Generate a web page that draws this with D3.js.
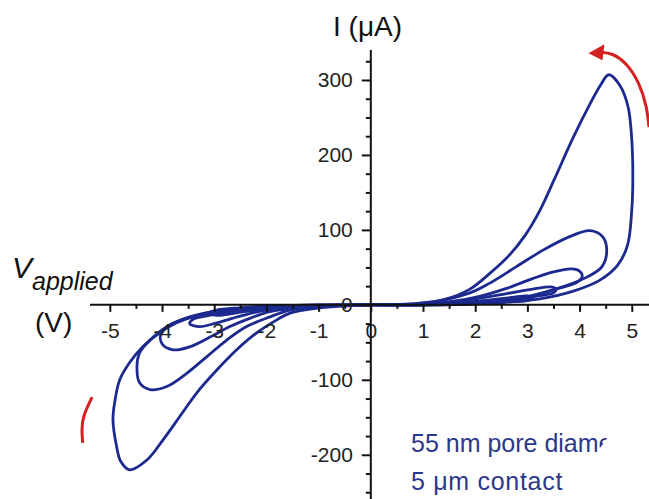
<!doctype html>
<html>
<head>
<meta charset="utf-8">
<title>I-V loops</title>
<style>
  body { margin: 0; background: #fff; }
  svg { display: block; font-family: "Liberation Sans", Arial, sans-serif; }
  .axis path, .axis line { stroke: #111; stroke-width: 2; }
  .axis text { fill: #222; font-size: 21px; }
  .loop { fill: none; stroke: #1c2a90; stroke-width: 2.8; stroke-linejoin: round; }
</style>
<script src="https://d3js.org/d3.v7.min.js"></script>
</head>
<body>
<svg width="649" height="499"></svg>
<script>
// tick values
var xMajor = [-5, -4, -3, -2, -1, 0, 1, 2, 3, 4, 5];
var xMinor = [-4.5, -3.5, -2.5, -1.5, -0.5, 0.5, 1.5, 2.5, 3.5, 4.5];
var yMajor = [300, 200, 100, 0, -100, -200];
var yMinor = [325, 275, 250, 225, 175, 150, 125, 75, 50, 25, -25, -50, -75, -125, -150, -175, -225, -250];

// loops, [V, I(uA)]
var posLoop1 = [[0,0],[1.5,0.5],[2.47,3],[3.24,8],[3.91,19],[4.39,33],[4.73,53],[4.92,80],[5.0,127],[5.02,167],[5.0,220],[4.93,264],[4.77,293],[4.56,307],[4.4,293],[4.2,268],[3.87,222],[3.52,168],[3.24,126],[2.96,93],[2.65,66],[2.28,42],[1.9,21],[1.4,7],[0.8,1.5],[0,0]];
var posLoop2 = [[0,0],[0.94,0],[1.9,3],[2.85,9],[3.49,20],[4.14,37],[4.43,51],[4.52,73],[4.44,91],[4.2,99],[3.81,91],[3.3,73],[2.79,51],[2.28,29],[1.9,16],[1.0,2],[0,0]];
var posLoop3 = [[0,0],[0.8,0],[1.5,1],[2.5,5],[3.1,12],[3.6,22],[3.95,30],[4.05,38],[4.0,45],[3.85,48],[3.5,44],[3.1,35],[2.6,22],[2.0,10],[1.2,2],[0,0]];
var posLoop4 = [[0,0],[1.2,0],[2.0,2],[2.7,6],[3.2,12],[3.5,16],[3.55,21],[3.45,24],[3.1,21],[2.6,15],[2.0,8],[1.3,2],[0,0]];
var posLoop5 = [[0,0],[1.2,0],[2.0,1.5],[2.6,4],[3.0,6],[3.1,10],[3.0,12],[2.7,10],[2.2,6],[1.5,2],[0,0]];

var negLoop1 = [[0,0],[-0.4,-1],[-0.98,-4],[-1.55,-11],[-1.8,-20],[-2.18,-37],[-2.57,-60],[-2.95,-87],[-3.33,-117],[-3.66,-149],[-3.98,-180],[-4.29,-207],[-4.62,-220],[-4.79,-209],[-4.87,-189],[-4.94,-153],[-4.9,-127],[-4.81,-100],[-4.62,-77],[-4.37,-56],[-4.04,-37],[-3.72,-24],[-3.28,-13],[-2.84,-7],[-2.18,-3],[-1.2,-0.5],[0,0]];
var negLoop2 = [[0,0],[-0.9,-2],[-1.55,-7],[-1.93,-16],[-2.38,-29],[-2.76,-47],[-3.14,-69],[-3.52,-91],[-3.91,-109],[-4.23,-113],[-4.43,-104],[-4.48,-83],[-4.43,-64],[-4.23,-47],[-3.91,-29],[-3.47,-16],[-2.84,-7],[-2.0,-2],[-1.0,-0.3],[0,0]];
var negLoop3 = [[0,0],[-1.0,-2],[-1.93,-9],[-2.32,-18],[-2.7,-29],[-3.08,-43],[-3.47,-56],[-3.79,-60],[-4.0,-52],[-4.02,-38],[-3.85,-27],[-3.47,-17],[-2.9,-9],[-2.2,-4],[-1.2,-1],[0,0]];
var negLoop4 = [[0,0],[-1.2,-2],[-2.0,-7],[-2.5,-15],[-2.95,-24],[-3.28,-29],[-3.47,-25],[-3.4,-19],[-3.1,-14],[-2.6,-8],[-1.9,-3],[-1.0,-0.5],[0,0]];
var negLoop5 = [[0,0],[-1.3,-2],[-2.1,-6],[-2.6,-11],[-2.95,-14],[-3.1,-11],[-2.95,-7],[-2.5,-4],[-1.8,-1.5],[-1.0,-0.3],[0,0]];

// sweep direction arrows (red)
var arrowTop = [[5.33,237],[5.29,264],[5.15,296],[4.9,323],[4.62,336],[4.4,337]];
var arrowBottom = [[-5.34,-123],[-5.52,-149],[-5.54,-167],[-5.52,-184]];

var svg = d3.select("svg"),
    W = +svg.attr("width"), H = +svg.attr("height");

var x = d3.scaleLinear().domain([-5.38, 5.33]).range([90, 649]);
var y = d3.scaleLinear().domain([340, -259]).range([50, 499]);

var line = d3.line()
    .x(function(d){ return x(d[0]); })
    .y(function(d){ return y(d[1]); })
    .curve(d3.curveCatmullRom.alpha(0.5));

//loops
var loops = [posLoop1, posLoop2, posLoop3, posLoop4, posLoop5, negLoop1, negLoop2, negLoop3, negLoop4, negLoop5];
svg.selectAll(".loop").data(loops).enter()
    .append("path").attr("class", "loop").attr("d", line);

//x axis, ticks below
var gx = svg.append("g").attr("class", "axis").attr("transform", "translate(0," + y(0) + ")");
gx.call(d3.axisBottom(x).tickValues(xMajor).tickSize(7).tickPadding(11).tickFormat(function(d){ return String(d); }));
gx.select(".domain").attr("d", "M" + x.range()[0] + ",0H" + x.range()[1]);
var gxm = svg.append("g").attr("class", "axis").attr("transform", "translate(0," + y(0) + ")");
gxm.call(d3.axisBottom(x).tickValues(xMinor).tickSize(4).tickFormat(""));
gxm.select(".domain").remove();

//y axis, ticks to the left
var gy = svg.append("g").attr("class", "axis").attr("transform", "translate(" + x(0) + ",0)");
gy.call(d3.axisLeft(y).tickValues(yMajor).tickSize(9).tickPadding(9).tickFormat(function(d){ return String(d); }));
gy.select(".domain").attr("d", "M0," + y.range()[0] + "V" + y.range()[1]);
gy.selectAll(".tick text").attr("font-size", 22);
var gym = svg.append("g").attr("class", "axis").attr("transform", "translate(" + x(0) + ",0)");
gym.call(d3.axisLeft(y).tickValues(yMinor).tickSize(5).tickFormat(""));
gym.select(".domain").remove();

// red arrows
var arrowLine = d3.line().x(function(d){ return x(d[0]); }).y(function(d){ return y(d[1]); }).curve(d3.curveBasis);
svg.append("path").attr("d", arrowLine(arrowTop)).attr("fill", "none").attr("stroke", "#d42121").attr("stroke-width", 3);
svg.append("path").attr("d", arrowLine(arrowBottom)).attr("fill", "none").attr("stroke", "#d42121").attr("stroke-width", 3);
var tip = arrowTop[arrowTop.length - 1];
var tx = x(tip[0]), ty = y(tip[1]);
svg.append("path")
    .attr("d", "M" + (tx - 12) + "," + (ty + 1) + "L" + (tx + 4) + "," + (ty - 8) + "L" + (tx + 2) + "," + (ty + 8) + "Z")
    .attr("fill", "#d42121");

// axis titles
svg.append("text").attr("x", 333).attr("y", 36).attr("font-size", 28).attr("fill", "#111").text("I (\u03bcA)");
var vt = svg.append("text").attr("x", 12).attr("y", 278).attr("fill", "#111").attr("font-style", "italic");
vt.append("tspan").attr("font-size", 30).text("V");
vt.append("tspan").attr("font-size", 25).attr("dy", 12).text("applied");
svg.append("text").attr("x", 35).attr("y", 332).attr("font-size", 28).attr("fill", "#111").text("(V)");

// annotation
svg.append("text").attr("x", 411).attr("y", 452).attr("font-size", 25).attr("fill", "#2c3889").text("55 nm pore diameter");
svg.append("text").attr("x", 411).attr("y", 490).attr("font-size", 25).attr("letter-spacing", 0.7).attr("fill", "#2c3889").text("5 \u03bcm contact");

// oval crop of the figure (cuts the lower right corner)
var cx = 324, cy = 150, rx = 373, ry = 443;
svg.append("path")
    .attr("fill", "#fff").attr("fill-rule", "evenodd")
    .attr("d", "M0,0H" + W + "V" + H + "H0Z M" + (cx - rx) + "," + cy +
        "a" + rx + "," + ry + " 0 1,0 " + (2 * rx) + ",0a" + rx + "," + ry + " 0 1,0 " + (-2 * rx) + ",0Z");
</script>
</body>
</html>
